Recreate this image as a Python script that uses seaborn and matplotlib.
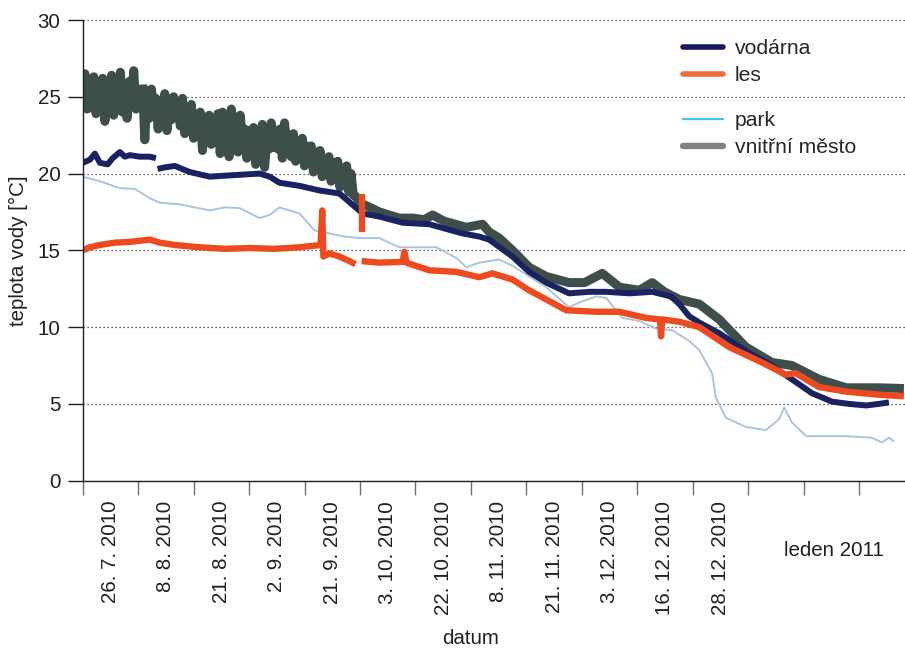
import numpy as np
import pandas as pd
import matplotlib
matplotlib.use("Agg")
import matplotlib.pyplot as plt
import seaborn as sns
from matplotlib.lines import Line2D

sns.set_theme(style="white")
plt.rcParams["font.family"] = ["Liberation Sans", "DejaVu Sans"]
plt.rcParams["path.simplify"] = False

# ---------------- data (x in "interval" units along the date axis) ----------
date_labels = ["26. 7. 2010", "8. 8. 2010", "21. 8. 2010", "2. 9. 2010",
               "21. 9. 2010", "3. 10. 2010", "22. 10. 2010", "8. 11. 2010",
               "21. 11. 2010", "3. 12. 2010", "16. 12. 2010", "28. 12. 2010"]
last_label = "leden 2011"
y_ticks = [0, 5, 10, 15, 20, 25, 30]

# vnitřní město (grey)
mesto_x1 = [0.00, 0.04, 0.08, 0.12, 0.16, 0.20, 0.24, 0.28, 0.32, 0.36, 0.40, 0.44, 0.48,
            0.52, 0.56, 0.60, 0.64, 0.68, 0.72, 0.76, 0.80, 0.84, 0.88, 0.92, 0.96, 1.00]
mesto_y1 = [25.0, 26.5, 24.2, 25.6, 24.8, 26.3, 23.9, 25.2, 24.5, 26.2, 23.4, 25.0, 24.6,
            26.4, 23.8, 25.5, 24.9, 26.6, 24.0, 25.3, 23.6, 26.0, 24.8, 26.7, 24.2, 25.2]
mesto_x2 = [1.08, 1.12, 1.16, 1.20, 1.24, 1.28, 1.32, 1.36, 1.40, 1.44, 1.48, 1.52, 1.56,
            1.60, 1.64, 1.68, 1.72, 1.76, 1.80, 1.84, 1.88, 1.92, 1.96, 2.00, 2.04, 2.08,
            2.12, 2.16, 2.20, 2.24, 2.28, 2.32, 2.36, 2.40, 2.44, 2.48, 2.52, 2.56, 2.60,
            2.64, 2.68, 2.72, 2.76, 2.80, 2.84, 2.88, 2.92, 2.96, 3.00, 3.04, 3.08, 3.12,
            3.16, 3.20, 3.24, 3.28, 3.32, 3.36, 3.40, 3.44, 3.48, 3.52, 3.56, 3.60, 3.64,
            3.68, 3.72, 3.76, 3.80, 3.84, 3.88, 3.92, 3.96, 4.00, 4.04, 4.08, 4.12, 4.16,
            4.20, 4.24, 4.28, 4.32, 4.36, 4.40, 4.44, 4.48, 4.52, 4.56, 4.60, 4.64, 4.68,
            4.72, 4.76, 4.80, 4.84, 4.88,
            4.93, 4.99, 5.12, 5.35, 5.71, 5.95, 6.16, 6.31, 6.52, 6.92, 7.21, 7.33, 7.51,
            7.75, 8.05, 8.36, 8.77, 9.05, 9.37, 9.68, 10.04, 10.27, 10.49, 10.76, 11.12,
            11.48, 11.96, 12.43, 12.79, 13.28, 13.77, 14.36, 14.81]
mesto_y2 = [25.8, 22.2, 25.4, 23.6, 25.5, 24.0, 24.9, 22.9, 24.4, 23.6, 25.2, 22.8, 24.3,
            23.5, 25.0, 23.9, 24.6, 23.1, 24.9, 22.6, 24.0, 23.2, 24.5, 22.3, 23.7, 22.9,
            24.0, 21.5, 23.4, 22.4, 23.8, 21.9, 23.1, 22.4, 23.9, 21.3, 24.0, 22.5, 23.2,
            21.1, 24.2, 22.6, 23.3, 21.4, 23.8, 22.3, 22.9, 21.0, 22.8, 21.8, 23.0, 20.6,
            22.3, 21.5, 23.2, 20.4, 22.2, 21.6, 23.3, 21.7, 22.8, 21.6, 22.9, 21.0, 23.3,
            21.9, 22.5, 21.1, 22.6, 20.8, 22.1, 21.3, 22.3, 20.5, 21.8, 20.9, 21.8, 20.1,
            21.4, 20.6, 21.5, 19.8, 21.0, 20.2, 21.1, 19.5, 20.7, 19.8, 20.8, 19.1, 20.3,
            19.5, 20.5, 18.8, 20.0, 18.6,
            18.5, 18.1, 17.9, 17.5, 17.1, 17.1, 17.0, 17.3, 16.9, 16.5, 16.7, 16.2, 15.8,
            15.0, 13.9, 13.3, 12.9, 12.9, 13.5, 12.6, 12.4, 12.9, 12.3, 11.8, 11.5,
            10.5, 8.7, 7.7, 7.5, 6.6, 6.05, 6.05, 6.0]

# vodárna (navy)
vodarna_x1 = [0.00, 0.13, 0.22, 0.31, 0.45, 0.54, 0.67, 0.76, 0.85, 1.03, 1.21, 1.32]
vodarna_y1 = [20.7, 20.9, 21.3, 20.7, 20.6, 21.0, 21.4, 21.1, 21.2, 21.1, 21.1, 21.0]
vodarna_x2 = [1.35, 1.48, 1.66, 1.93, 2.29, 2.74, 3.19, 3.37, 3.55, 3.91, 4.27, 4.63, 4.76,
              5.05, 5.35, 5.77, 6.25, 6.85, 7.15, 7.33, 7.75, 8.05, 8.36, 8.77, 9.14, 9.44,
              9.86, 10.27, 10.61, 10.76, 10.94, 11.12, 11.48, 12.02, 12.38, 12.79, 13.15,
              13.51, 13.82, 14.13, 14.36, 14.54]
vodarna_y2 = [20.3, 20.4, 20.5, 20.1, 19.8, 19.9, 20.0, 19.8, 19.4, 19.2, 18.9, 18.7, 18.3,
              17.4, 17.2, 16.8, 16.7, 16.1, 15.9, 15.7, 14.6, 13.6, 12.9, 12.2, 12.3, 12.3,
              12.2, 12.3, 12.0, 11.5, 10.7, 10.3, 9.6, 8.3, 7.6, 6.6, 5.7,
              5.15, 5.0, 4.9, 5.0, 5.1]

# les (orange)
les_x1 = [0.00, 0.13, 0.31, 0.58, 0.85, 1.21, 1.39, 1.66, 2.11, 2.56, 3.01, 3.46, 3.91,
          4.29, 4.32, 4.34, 4.45, 4.63, 4.81, 4.92]
les_y1 = [15.0, 15.2, 15.35, 15.5, 15.55, 15.7, 15.5, 15.35, 15.2, 15.1, 15.15, 15.1, 15.2,
          15.35, 17.6, 14.6, 14.8, 14.6, 14.3, 14.1]
les_x2 = [5.04, 5.04]
les_y2 = [16.2, 18.7]
les_x3 = [5.03, 5.35, 5.77, 5.80, 5.84, 6.25, 6.74, 7.15, 7.39, 7.75, 8.05, 8.36, 8.72,
          9.26, 9.68, 10.16, 10.41, 10.43, 10.45, 10.76, 11.12, 11.66, 12.25, 12.68,
          12.86, 13.28, 13.77, 14.36, 14.81]
les_y3 = [14.3, 14.2, 14.25, 14.9, 14.2, 13.7, 13.6, 13.25, 13.5, 13.1, 12.4, 11.8, 11.1,
          11.0, 11.0, 10.6, 10.5, 9.4, 10.5, 10.35, 10.0, 8.7, 7.7, 6.9,
          7.0, 6.1, 5.8, 5.6, 5.5]

# park (light blue)
park_x = [0.00, 0.31, 0.67, 0.94, 1.21, 1.39, 1.75, 2.29, 2.56, 2.83, 3.19, 3.37, 3.55,
          3.91, 4.18, 4.45, 4.72, 4.99, 5.35, 5.71, 6.07, 6.38, 6.74, 6.92, 7.15, 7.51,
          7.75, 8.05, 8.36, 8.77, 8.95, 9.26, 9.44, 9.73, 10.04, 10.34, 10.63, 10.94,
          11.12, 11.35, 11.42, 11.60, 11.96, 12.32, 12.56, 12.65, 12.79, 13.05, 13.77,
          14.23, 14.41, 14.54, 14.63]
park_y = [19.8, 19.5, 19.05, 19.0, 18.4, 18.1, 18.0, 17.6, 17.8, 17.75, 17.1, 17.3, 17.8,
          17.4, 16.3, 16.1, 15.9, 15.8, 15.8, 15.2, 15.2, 15.2, 14.5, 13.9, 14.2, 14.4,
          14.0, 13.3, 12.6, 11.3, 11.6, 12.0, 11.9, 10.6, 10.4, 9.9, 9.8, 9.1,
          8.5, 7.0, 5.4, 4.1, 3.5, 3.3, 4.0, 4.75, 3.8, 2.9, 2.9,
          2.8, 2.5, 2.8, 2.55]

series = {
    "park": [(park_x, park_y)],
    "vnitřní město": [(mesto_x1, mesto_y1), (mesto_x2, mesto_y2)],
    "vodárna": [(vodarna_x1, vodarna_y1), (vodarna_x2, vodarna_y2)],
    "les": [(les_x1, les_y1), (les_x2, les_y2), (les_x3, les_y3)],
}

rows = []
for name, segs in series.items():
    for i, (xs, ys) in enumerate(segs):
        for k, (xv, yv) in enumerate(zip(xs, ys)):
            rows.append({"series": name, "seg": f"{name}_{i}", "order": k, "x": xv, "y": yv})
df = pd.DataFrame(rows)

line_colors = {"park": "#a9c5dc", "vnitřní město": "#3e4f4b",
               "vodárna": "#1b2261", "les": "#ee4a20"}
line_widths = {"park": 1.4, "vnitřní město": 6.5, "vodárna": 4.3, "les": 4.6}
order = ["park", "vnitřní město", "vodárna", "les"]

# ---------------- figure ----------------
W, H = 905, 649
fig = plt.figure(figsize=(W / 100, H / 100), dpi=100)
x0, x1, ytop, ybot = 82.7, 905, 20, 480.7
ax = fig.add_axes([x0 / W, 1 - ybot / H, (x1 - x0) / W, (ybot - ytop) / H])

sns.lineplot(data=df, x="x", y="y", hue="series", hue_order=order, palette=line_colors,
             size="series", size_order=order, sizes=line_widths, units="seg",
             estimator=None, sort=False, legend=False, ax=ax,
             solid_joinstyle="round", solid_capstyle="butt")

unit_px = 55.45
ax.set_xlim(0, (x1 - x0) / unit_px)
ax.set_ylim(0, 30)

fs = 14.8
ax.set_yticks(y_ticks)
ax.set_yticklabels([str(v) for v in y_ticks], fontsize=fs, color="#231f20")
ax.set_xticks(list(range(15)))
ax.set_xticklabels([])
ax.set_xticks([i + 0.5 for i in range(len(date_labels))], minor=True)
ax.set_xticklabels(date_labels, minor=True, rotation=90, fontsize=fs, color="#231f20")

ax.tick_params(axis="y", which="major", direction="out", length=11, width=1.0,
               color="#231f20", pad=5, left=True)
ax.tick_params(axis="x", which="major", direction="out", length=10.2, width=1.0,
               color="#6d6e71", bottom=True)
ax.tick_params(axis="x", which="minor", length=0, pad=14.5, bottom=True)

for s in ["top", "right"]:
    ax.spines[s].set_visible(False)
for s in ["left", "bottom"]:
    ax.spines[s].set_color("#231f20")
    ax.spines[s].set_linewidth(1.0)

ax.yaxis.grid(True, linestyle=(0, (1, 2.2)), color="#333333", linewidth=0.9)
ax.xaxis.grid(False)
ax.set_axisbelow(True)

ax.set_xlabel("datum", fontsize=fs, color="#231f20")
ax.xaxis.set_label_coords(7.0 / ((x1 - x0) / unit_px), -0.322)
ax.set_ylabel("teplota vody [°C]", fontsize=fs, color="#231f20")
ax.yaxis.set_label_coords(-0.067, 0.5)

ax.text(13.55, -0.152, last_label, transform=ax.get_xaxis_transform(),
        ha="center", va="center", fontsize=fs, color="#231f20")

# legends
leg_kw = dict(loc="upper left", bbox_transform=fig.transFigure, frameon=False,
              fontsize=fs + 0.4, handlelength=1.9, handletextpad=0.55,
              labelspacing=0.38, borderpad=0, borderaxespad=0)
h1 = [Line2D([], [], color="#171a5e", lw=4.0), Line2D([], [], color="#f26a3f", lw=4.0)]
leg1 = ax.legend(h1, ["vodárna", "les"], bbox_to_anchor=(683 / W, 1 - 39 / H), **leg_kw)
ax.add_artist(leg1)
h2 = [Line2D([], [], color="#40c1ee", lw=1.6), Line2D([], [], color="#808285", lw=4.6)]
leg2 = ax.legend(h2, ["park", "vnitřní město"], bbox_to_anchor=(683 / W, 1 - 111 / H), **leg_kw)

fig.savefig("out.png", dpi=100)
